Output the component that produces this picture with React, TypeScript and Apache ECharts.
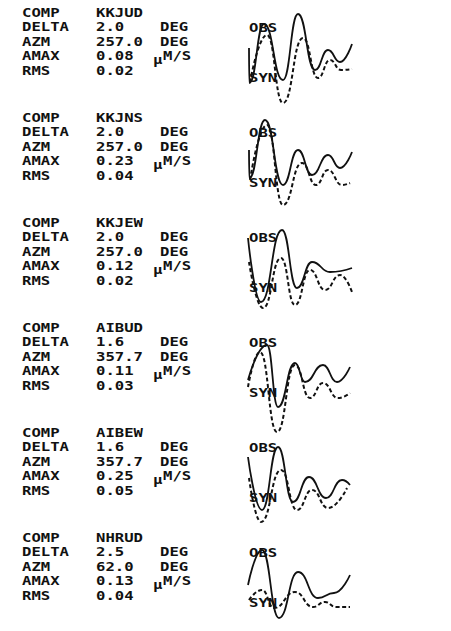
import React, { useEffect, useRef } from "react";
import * as echarts from "echarts";

const rowLabels = ["COMP", "DELTA", "AZM", "AMAX", "RMS"];
const comps = ["KKJUD", "KKJNS", "KKJEW", "AIBUD", "AIBEW", "NHRUD"];
const deltas = ["2.0", "2.0", "2.0", "1.6", "1.6", "2.5"];
const azms = ["257.0", "257.0", "257.0", "357.7", "357.7", "62.0"];
const amaxs = ["0.08", "0.23", "0.12", "0.11", "0.25", "0.13"];
const rmss = ["0.02", "0.04", "0.02", "0.03", "0.05", "0.04"];

// waveform samples: [time, amplitude]
const obs1 = [[1, 7], [1.3, -28], [16, 31], [35, -25], [50, 41], [67, -15], [80, 5], [92, -7], [104, 11]];
const syn1 = [[2, -27], [19, 20], [35, -48], [55, 17], [70, -23], [82, -5], [93, -15], [104, -14]];
const obs2 = [[1, 10], [1.3, -18], [17, 40], [35, -25], [50, 10], [64, -15], [80, 5], [92, -8], [104, 8]];
const syn2 = [[2, -20], [19, 35], [35, -45], [54, -3], [68, -25], [80, -10], [94, -25], [102, -23]];
const obs3 = [[0, 27], [13, -37], [34, 35], [49, -23], [64, 3], [82, -7], [104, -3]];
const syn3 = [[1, 3], [15, -43], [33, 7], [47, -40], [62, -5], [77, -25], [92, -10], [104, -27]];
const obs4 = [[0, -10], [19, 25], [30, -37], [47, 7], [57, -12], [75, 5], [89, -12], [102, 3]];
const syn4 = [[0, -17], [12, 18], [29, -62], [47, 5], [62, -28], [75, -13], [90, -28], [102, -23]];
const obs5 = [[0, 18], [14, -35], [30, 28], [45, -27], [61, -2], [78, -23], [94, -5], [102, -10]];
const syn5 = [[1, -3], [13, -47], [33, 5], [49, -35], [64, -15], [80, -33], [99, -13]];
const obs6 = [[0, -5], [14, 30], [31, -38], [50, 8], [70, -18], [86, -13], [102, 5]];
const syn6 = [[1, -20], [14, -10], [26, -28], [47, -12], [65, -27], [77, -22], [88, -27], [102, -27]];

const obsAll = [obs1, obs2, obs3, obs4, obs5, obs6];
const synAll = [syn1, syn2, syn3, syn4, syn5, syn6];

const FONT = "DejaVu Sans Mono";
const PERIOD = 105;

export default function App() {
  const ref = useRef<HTMLDivElement>(null);
  useEffect(() => {
    if (!ref.current) return;
    const chart = echarts.init(ref.current, null, { renderer: "svg" });
    const grids: any[] = [];
    const xAxes: any[] = [];
    const yAxes: any[] = [];
    const series: any[] = [];
    const graphics: any[] = [];
    const txt = (s: string, x: number, y: number) => ({
      type: "text",
      x,
      y,
      scaleX: 1.2,
      style: {
        text: s,
        fill: "#111",
        font: `bold 13px "${FONT}"`,
        verticalAlign: "middle",
        align: "left",
      },
    });
    for (let k = 0; k < 6; k++) {
      const top = 5 + PERIOD * k;
      grids.push({ left: 248, top, width: 105, height: 100 });
      xAxes.push({ type: "value", gridIndex: k, min: 0, max: 105, show: false });
      yAxes.push({ type: "value", gridIndex: k, min: -50, max: 50, show: false });
      series.push({
        type: "line",
        xAxisIndex: k,
        yAxisIndex: k,
        data: obsAll[k],
        smooth: 0.5,
        smoothMonotone: "x",
        symbol: "none",
        clip: false,
        lineStyle: { color: "#111", width: 1.8 },
      });
      series.push({
        type: "line",
        xAxisIndex: k,
        yAxisIndex: k,
        data: synAll[k],
        smooth: 0.5,
        smoothMonotone: "x",
        symbol: "none",
        clip: false,
        lineStyle: { color: "#111", width: 2, type: [4, 2.5] },
      });
      const base = 12 + PERIOD * k;
      const vals = [comps[k], deltas[k], azms[k], amaxs[k], rmss[k]];
      rowLabels.forEach((lab, i) => {
        const y = base + 14.5 * i;
        graphics.push(txt(lab, 22, y));
        graphics.push(txt(vals[i], 96, y));
      });
      graphics.push(txt("DEG", 160, base + 14.5));
      graphics.push(txt("DEG", 160, base + 29));
      graphics.push(txt("\u03bc", 153, base + 47));
      graphics.push(txt("M/S", 163, base + 43));
      const c = top + 50;
      graphics.push(txt("OBS", 249, c - 28));
      graphics.push(txt("SYN", 249, c + 22));
    }
    chart.setOption({
      animation: false,
      backgroundColor: "#fff",
      grid: grids,
      xAxis: xAxes,
      yAxis: yAxes,
      series,
      graphic: graphics,
    });
    return () => chart.dispose();
  }, []);
  return (
    <div
      ref={ref}
      style={{ position: "absolute", left: 0, top: 0, width: 451, height: 631 }}
    />
  );
}
